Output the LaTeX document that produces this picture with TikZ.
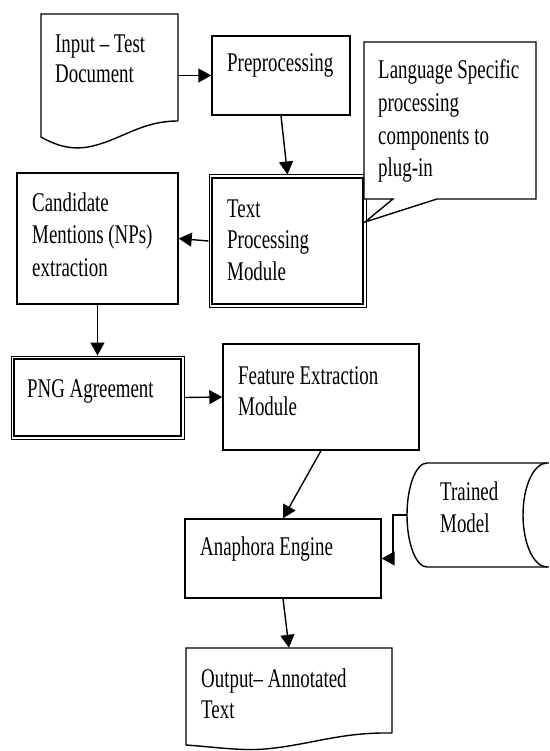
\documentclass[tikz,border=0pt]{standalone}
\usepackage{fontspec}
\setmainfont{Liberation Serif}[FakeStretch=0.70]
\usetikzlibrary{arrows.meta}
\tikzset{
  box/.style={draw, line width=1.4pt, rectangle, inner sep=0pt},
  ghost/.style={draw=none, rectangle, inner sep=0pt},
  txt/.style={anchor=base west, align=left, inner sep=0pt, font=\fontsize{27}{32}\selectfont},
  arr/.style={line width=1.4pt, -{Triangle[length=13pt,width=14pt]}},
  inner2/.style={line width=2pt}
}
\begin{document}
\begin{tikzpicture}[x=1pt,y=-1pt]
\useasboundingbox (0,0) rectangle (549,751);
% Input document
\node[ghost, minimum width=137pt, minimum height=123pt] (inp) at (109.5,75.5) {};
\draw[line width=1.4pt] (178,121) -- (178,14) -- (41,14) -- (41,137)
  .. controls (55,145) and (70,150) .. (88,147)
  .. controls (120,141) and (140,121) .. (178,121);
\node[txt, font=\fontsize{27}{30}\selectfont] (inpT) at (55,83) {Input – Test\\Document};
% Preprocessing
\node[box, minimum width=138pt, minimum height=79pt] (pre) at (281,75.5) {};
\node[txt] (preT) at (227,72) {Preprocessing};
% Text processing module (double border)
\node[box, line width=1pt, minimum width=157pt, minimum height=132pt] (tp) at (287.5,241) {};
\draw[inner2] ([shift={(3.5,3.5)}]tp.north west) rectangle ([shift={(-3.5,-3.5)}]tp.south east);
\node[txt, font=\fontsize{27}{31.5}\selectfont] (tpT) at (227,280) {Text\\Processing\\Module};
% Callout
\node[ghost, minimum width=172pt, minimum height=157pt] (cb) at (450,120.5) {};
\draw[line width=1.4pt, fill=white] (364,42) -- (536,42) -- (536,199) -- (437,199) -- (365,222) -- (393,199) -- (364,199) -- cycle;
\node[txt, font=\fontsize{27}{32.7}\selectfont] (cbT) at (378,177) {Language Specific\\processing\\components to\\plug-in};
% Candidate
\node[box, minimum width=161pt, minimum height=131pt] (cand) at (97.5,238.5) {};
\node[txt, font=\fontsize{27}{32.5}\selectfont] (candT) at (32,276) {Candidate\\Mentions (NPs)\\extraction};
% PNG agreement (double border)
\node[box, line width=1pt, minimum width=173pt, minimum height=83pt] (png) at (97.5,397.5) {};
\draw[inner2] ([shift={(3.5,3.5)}]png.north west) rectangle ([shift={(-3.5,-3.5)}]png.south east);
\node[txt] (pngT) at (27,397) {PNG Agreement};
% Feature extraction
\node[box, minimum width=196pt, minimum height=106pt] (fe) at (321,397) {};
\node[txt, font=\fontsize{27}{31}\selectfont] (feT) at (238,415) {Feature Extraction\\Module};
% Anaphora engine
\node[box, minimum width=196pt, minimum height=79pt] (ana) at (283,558.5) {};
\node[txt] (anaT) at (200,555) {Anaphora Engine};
% Trained model cylinder
\node[ghost, minimum width=142pt, minimum height=104pt] (tm) at (478,515) {};
\draw[line width=1.4pt] (549,463) -- (427,463)
  .. controls (416,463) and (407,486.3) .. (407,515)
  .. controls (407,543.7) and (416,567) .. (427,567) -- (549,567);
\draw[line width=1.4pt] (547,463) .. controls (533.7,463) and (523,486.3) .. (523,515)
  .. controls (523,543.7) and (533.7,567) .. (547,567);
\node[txt] (tmT) at (440,532) {Trained\\Model};
% Output document
\node[ghost, minimum width=206pt, minimum height=97pt] (out) at (289,696.5) {};
\draw[line width=1.4pt] (392,733) -- (392,648) -- (186,648) -- (186,745)
  .. controls (215,747) and (240,751) .. (265,749)
  .. controls (310,745) and (340,732) .. (392,733);
\node[txt, font=\fontsize{27}{31}\selectfont] (outT) at (201,718) {Output– Annotated\\Text};
% Connectors
\draw[arr] (inp.east) -- (pre.west);
\draw[arr] (pre.south) -- (tp.north);
\draw[arr] (tp.west) -- (cand.east);
\draw[arr] (cand.south) -- (png.north);
\draw[arr] (png.east) -- (fe.west);
\draw[arr] (fe.south) -- (ana.north);
\draw[arr] (tm.west) -- ++(-14,0) |- (ana.east);
\draw[arr] (ana.south) -- (out.north);
\end{tikzpicture}
\end{document}
